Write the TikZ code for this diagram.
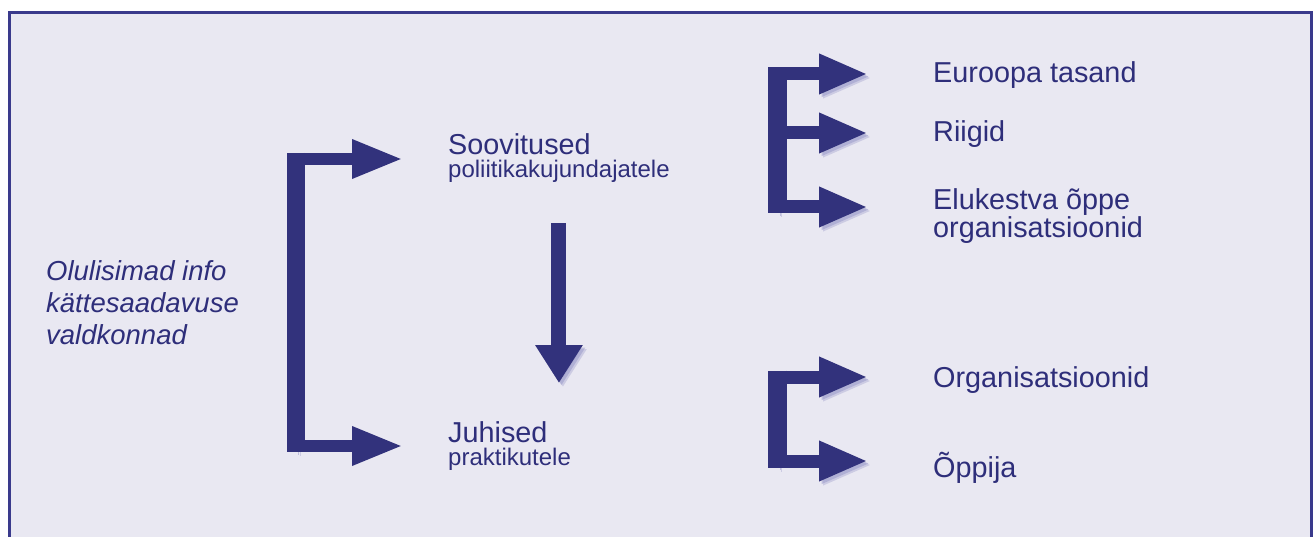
\documentclass[tikz,border=0pt]{standalone}
\usepackage{fontspec}
\setmainfont{Liberation Sans}
\usetikzlibrary{arrows.meta,positioning}

\definecolor{navy}{RGB}{50,50,124}
\definecolor{inknavy}{RGB}{46,46,122}
\definecolor{panel}{RGB}{233,232,242}
\definecolor{framecol}{RGB}{58,58,140}
\definecolor{shade}{RGB}{150,150,200}

\begin{document}
\begin{tikzpicture}[x=1pt,y=-1pt,
    % Styles
    txt/.style={inner sep=0pt, text=inknavy, align=left},
    big/.style={txt, font=\fontsize{28.8}{28}\selectfont},
    lead/.style={txt, font=\itshape\fontsize{27.5}{32}\selectfont},
    shadowed/.style={preaction={draw=shade, opacity=0.35,
                     transform canvas={shift={(4pt,-4pt)}}},
                     preaction={draw=shade, opacity=0.5,
                     transform canvas={shift={(2.5pt,-2.5pt)}}}},
    spine/.style={draw=navy, line width=#1, shadowed},
    brarrow/.style={draw=navy, line width=13pt, shadowed,
                    -{Triangle[length=49pt,width=37pt]}},
    downarrow/.style={draw=navy, line width=15pt, shadowed,
                      -{Triangle[length=38pt,width=45pt]}}]

    \useasboundingbox (0,0) rectangle (1313,537);
    \draw[framecol, line width=3pt, fill=panel] (9.5,12.5) rectangle (1311.5,560);

    % ==== Texts ====
    \node[lead, anchor=west] (lead) at (46,303)
        {Olulisimad info\\k\"attesaadavuse\\valdkonnad};
    \node[big, anchor=north west] (soov) at (448,133)
        {Soovitused\\[-5pt]{\fontsize{24}{23}\selectfont poliitikakujundajatele}};
    \node[big, anchor=north west] (juh) at (448,421)
        {Juhised\\[-5pt]{\fontsize{24}{23}\selectfont praktikutele}};
    \node[big, anchor=base west] (euro)  at (933,83)  {Euroopa tasand};
    \node[big, anchor=base west] (riik)  at (933,142) {Riigid};
    \node[big, anchor=north west] (elu) at (933,188)
        {Elukestva õppe\\organisatsioonid};
    \node[big, anchor=base west] (org)   at (933,387) {Organisatsioonid};
    \node[big, anchor=base west] (oppija) at (933,477) {Õppija};

    % ==== Bracket joints ====
    \coordinate (ltop) at (296,159);
    \coordinate (lbot) at (296,446);
    \coordinate (etop) at (777.5,74);
    \coordinate (emid) at (777.5,133);
    \coordinate (ebot) at (777.5,207);
    \coordinate (ctop) at (777.5,377);
    \coordinate (cbot) at (777.5,461);

    % ==== Left bracket ====
    \draw[spine=18pt, shorten <=-6pt, shorten >=-6pt] (ltop) -- (lbot);
    \draw[brarrow, line width=12pt, -{Triangle[length=51pt,width=36pt]},
          shorten >=45pt] (ltop) -- (ltop -| soov.west);
    \draw[brarrow, line width=12pt, -{Triangle[length=51pt,width=36pt]},
          shorten >=45pt] (lbot) -- (lbot -| juh.west);

    % Soovitused down to Juhised
    \draw[downarrow, shorten <=41pt, shorten >=38pt]
        (soov.south) -- (soov.south |- juh.north);

    % ==== Upper right bracket ====
    \draw[spine=19pt, shorten <=-6.5pt, shorten >=-6.5pt] (etop) -- (ebot);
    \draw[brarrow, shorten >=65pt] (etop) -- (etop -| euro.west);
    \draw[brarrow, shorten >=65pt] (emid) -- (emid -| riik.west);
    \draw[brarrow, shorten >=65pt] (ebot) -- (ebot -| elu.west);

    % ==== Lower right bracket ====
    \draw[spine=19pt, shorten <=-6.5pt, shorten >=-6.5pt] (ctop) -- (cbot);
    \draw[brarrow, shorten >=65pt] (ctop) -- (ctop -| org.west);
    \draw[brarrow, shorten >=65pt] (cbot) -- (cbot -| oppija.west);
\end{tikzpicture}
\end{document}
